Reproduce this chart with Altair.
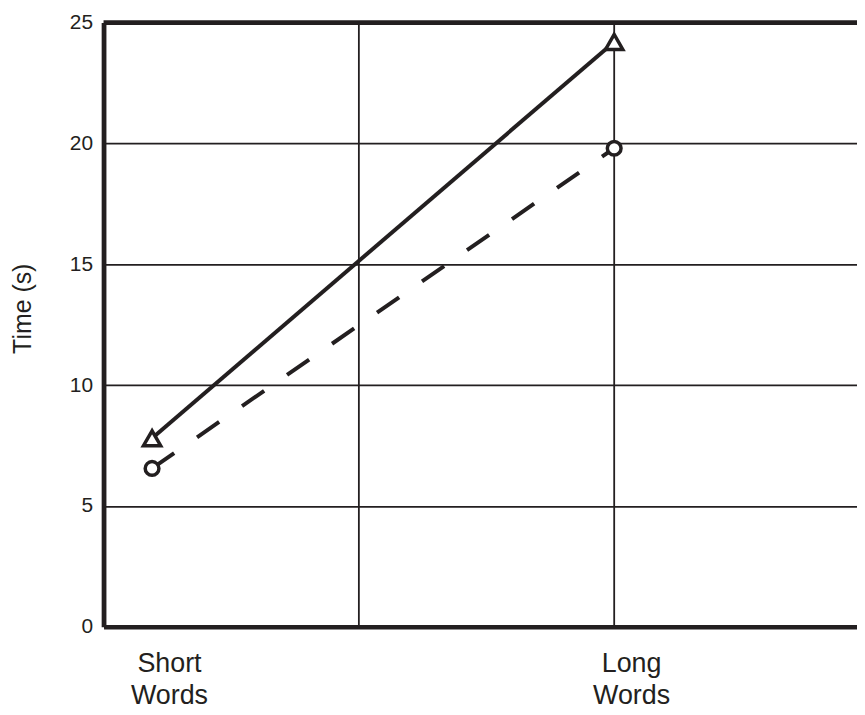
import altair as alt
import pandas as pd

# ---- data ----
categories = ["Short Words", "Long Words"]
cat_pos = [0.19, 2.0]            # x positions of the two conditions
triangle_series = [7.8, 24.2]    # solid line, triangle markers
circle_series = [6.55, 19.8]     # dashed line, circle markers
y_ticks = [0, 5, 10, 15, 20, 25]
x_grid = [1, 2]

INK = "#231f20"
FONT = "Liberation Sans"

df_tri = pd.DataFrame({"pos": cat_pos, "time": triangle_series, "cat": categories})
df_cir = pd.DataFrame({"pos": cat_pos, "time": circle_series, "cat": categories})
df_grid = pd.DataFrame({"g": x_grid})
df_top = pd.DataFrame({"v": [y_ticks[-1]]})

# label expression built from the category names (two-line labels)
parts = [c.split(" ") for c in categories]
label_expr = (
    f"datum.value < 1 ? ['{parts[0][0]}', '{parts[0][1]}'] : "
    f"datum.value > 1.5 ? ['{parts[1][0]}', '{parts[1][1]}'] : ''"
)

x_scale = alt.Scale(domain=[0, 2.951], nice=False, zero=False)
y_scale = alt.Scale(domain=[0, 25], nice=False)

x_axis = alt.Axis(
    values=cat_pos, labelExpr=label_expr, title=None, grid=False,
    ticks=False, tickSize=0, domainColor=INK, domainWidth=4.7,
    labelFont=FONT, labelFontSize=27, labelColor=INK, labelLineHeight=32,
    labelBaseline="top", labelPadding=24, labelOffset=17, labelFlush=False,
    labelAlign="center",
)
y_axis = alt.Axis(
    values=y_ticks, title="Time (s)", grid=True, gridColor=INK, gridWidth=1.8,
    gridOpacity=1, ticks=False, tickSize=0, domainColor=INK, domainWidth=4.8,
    labelFont=FONT, labelFontSize=21, labelColor=INK, labelPadding=11,
    labelFlush=False, titleFont=FONT, titleFontSize=25, titleFontWeight="normal",
    titleColor=INK, titlePadding=34, titleY=287,
)

vgrid = alt.Chart(df_grid).mark_rule(color=INK, strokeWidth=1.8).encode(
    x=alt.X("g:Q", scale=x_scale, axis=x_axis)
)
top = alt.Chart(df_top).mark_rule(color=INK, strokeWidth=4.8).encode(
    y=alt.Y("v:Q", scale=y_scale, axis=y_axis)
)

line_tri = alt.Chart(df_tri).mark_line(color=INK, strokeWidth=4).encode(
    x=alt.X("pos:Q", scale=x_scale, axis=x_axis),
    y=alt.Y("time:Q", scale=y_scale, axis=y_axis),
)
line_cir = alt.Chart(df_cir).mark_line(
    color=INK, strokeWidth=4, strokeDash=[27, 28], strokeCap="butt"
).encode(
    x=alt.X("pos:Q", scale=x_scale, axis=x_axis),
    y=alt.Y("time:Q", scale=y_scale, axis=y_axis),
)
pts_tri = alt.Chart(df_tri).mark_point(
    shape="triangle-up", filled=True, fill="white", stroke=INK,
    strokeWidth=3.5, size=300, opacity=1,
).encode(
    x=alt.X("pos:Q", scale=x_scale, axis=x_axis),
    y=alt.Y("time:Q", scale=y_scale, axis=y_axis),
)
pts_cir = alt.Chart(df_cir).mark_point(
    shape="circle", filled=True, fill="white", stroke=INK,
    strokeWidth=3.5, size=190, opacity=1,
).encode(
    x=alt.X("pos:Q", scale=x_scale, axis=x_axis),
    y=alt.Y("time:Q", scale=y_scale, axis=y_axis),
)

chart = alt.layer(vgrid, top, line_tri, line_cir, pts_tri, pts_cir).properties(
    width=757, height=607,
    autosize=alt.AutoSizeParams(type="none"),
    padding={"left": 96, "top": 13, "right": 0, "bottom": 85},
    background="white",
).configure_view(stroke=None)

chart.save("out.html", embed_options={"renderer": "svg", "actions": False})
